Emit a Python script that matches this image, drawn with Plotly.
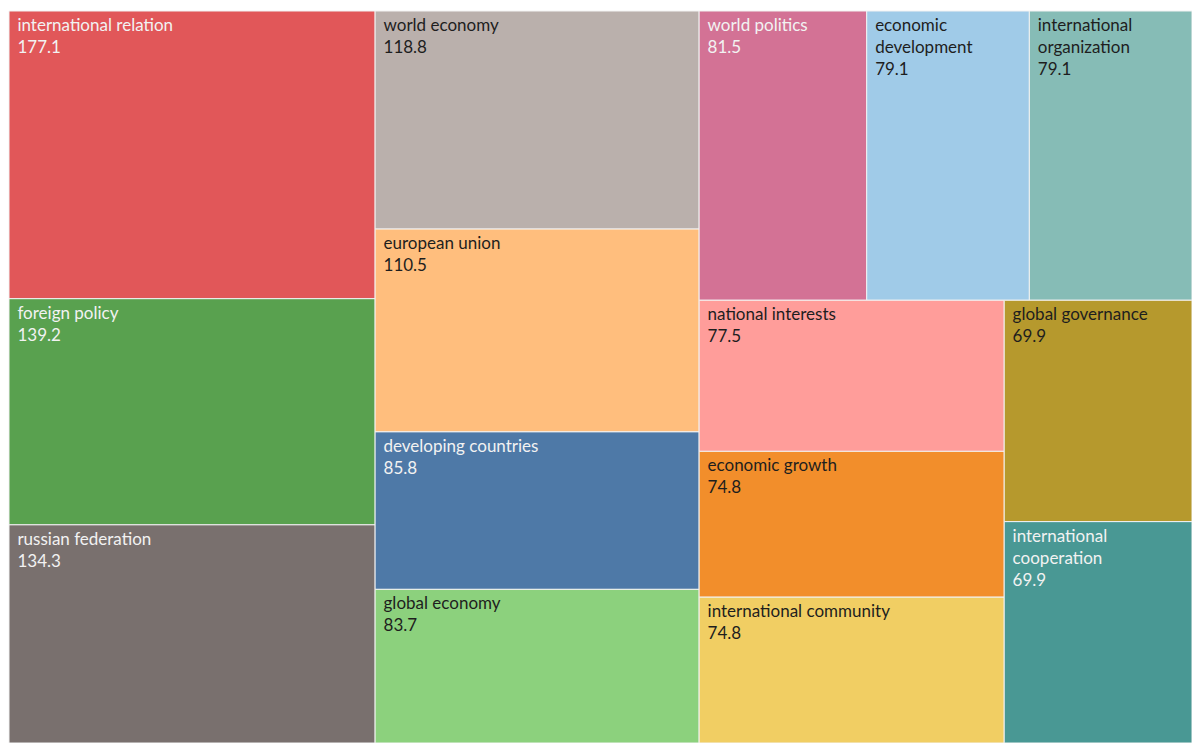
import plotly.graph_objects as go

# Keyword weights
keywords = [
    "international relation", "foreign policy", "russian federation",
    "world economy", "european union", "developing countries", "global economy",
    "world politics", "economic development", "international organization",
    "national interests", "economic growth", "international community",
    "global governance", "international cooperation",
]
weights = [177.1, 139.2, 134.3, 118.8, 110.5, 85.8, 83.7,
           81.5, 79.1, 79.1, 77.5, 74.8, 74.8, 69.9, 69.9]

# Display names (long ones wrapped onto two lines)
display_names = [
    "international relation", "foreign policy", "russian federation",
    "world economy", "european union", "developing countries", "global economy",
    "world politics", "economic<br>development", "international<br>organization",
    "national interests", "economic growth", "international community",
    "global governance", "international<br>cooperation",
]

tile_colors = ["#E15759", "#59A14F", "#79706E", "#BAB0AC", "#FFBE7D", "#4E79A7",
               "#8CD17D", "#D37295", "#A0CBE8", "#86BCB6", "#FF9D9A", "#F28E2B",
               "#F1CE63", "#B6992D", "#499894"]
light_text = "#F2F2F2"
dark_text = "#1E1E1E"
text_colors = [light_text, light_text, light_text, dark_text, dark_text, light_text,
               dark_text, light_text, dark_text, dark_text, dark_text, dark_text,
               dark_text, dark_text, light_text]

# Small left inset for every text line inside a tile
indent = "\u00a0\u200a"
tile_text = [indent + name.replace("<br>", "<br>" + indent) for name in display_names]

fig = go.Figure(go.Treemap(
    labels=keywords,
    parents=[""] * len(keywords),
    values=weights,
    text=tile_text,
    texttemplate="%{text}<br>" + indent + "%{value}",
    textposition="top left",
    textfont=dict(family="Lato", size=17, color=text_colors),
    marker=dict(colors=tile_colors, line=dict(color="#F2F2F2", width=1),
                pad=dict(t=0, l=0, r=0, b=0)),
    tiling=dict(packing="squarify", squarifyratio=1.618, pad=0),
    pathbar=dict(visible=False),
    sort=True,
))

fig.update_layout(
    width=1192, height=743,
    margin=dict(l=9, r=0, t=11, b=0),
    paper_bgcolor="white",
    uniformtext=dict(minsize=17, mode="show"),
)

fig.write_html("out.html")
